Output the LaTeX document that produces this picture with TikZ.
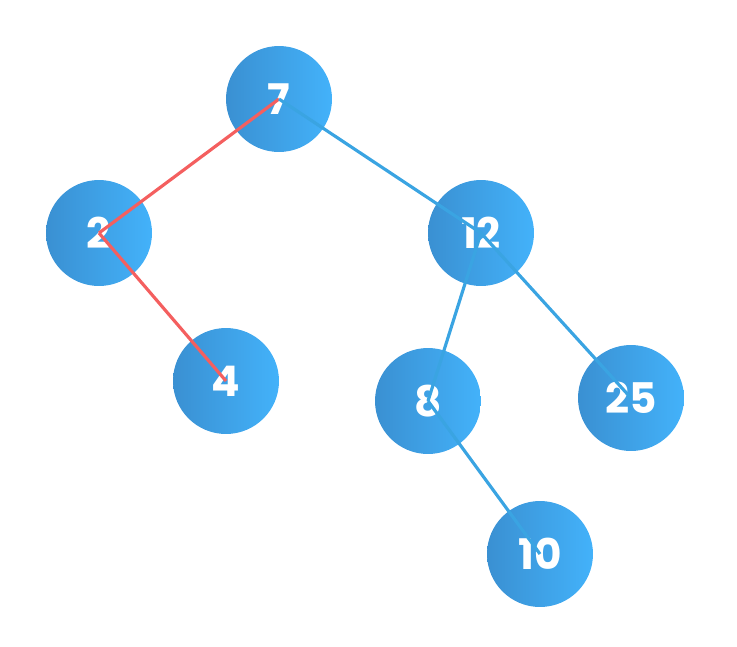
\documentclass[tikz,border=0pt]{standalone}
\usepackage{fontspec}
\setmainfont{Poppins}
\usetikzlibrary{positioning}
\definecolor{nodedark}{HTML}{3A90D2}
\definecolor{nodelight}{HTML}{43B2FA}
\definecolor{edgered}{HTML}{F45F5F}
\definecolor{edgeblue}{HTML}{3AA4E2}
\begin{document}
\begin{tikzpicture}[x=0.02cm,y=-0.02cm,
    vertex/.style={circle, minimum size=2.12cm, inner sep=0pt, left color=nodedark, right color=nodelight, text=white, font=\bfseries\fontsize{24}{28}\selectfont},
    redge/.style={edgered, line width=1.8pt},
    bedge/.style={edgeblue, line width=1.8pt}]
        \useasboundingbox (0,0) rectangle (737,646);
        \node[vertex] (n7) at (279,99) {7};
        \node[vertex] (n2) at (99,233) {2};
        \node[vertex] (n4) at (226,381) {4};
        \node[vertex] (n12) at (481,233) {12};
        \node[vertex] (n8) at (428,401) {8};
        \node[vertex] (n25) at (631,398) {25};
        \node[vertex] (n10) at (540,554) {10};

        \begin{scope}[on background layer/.try]
        \draw [redge] (n7.center) -- (n2.center);
        \draw [redge] (n2.center) -- (n4.center);
        \draw [bedge] (n7.center) -- (n12.center);
        \draw [bedge] (n12.center) -- (n8.center);
        \draw [bedge] (n12.center) -- (n25.center);
        \draw [bedge] (n8.center) -- (n10.center);
        \end{scope}
\end{tikzpicture}
\end{document}
